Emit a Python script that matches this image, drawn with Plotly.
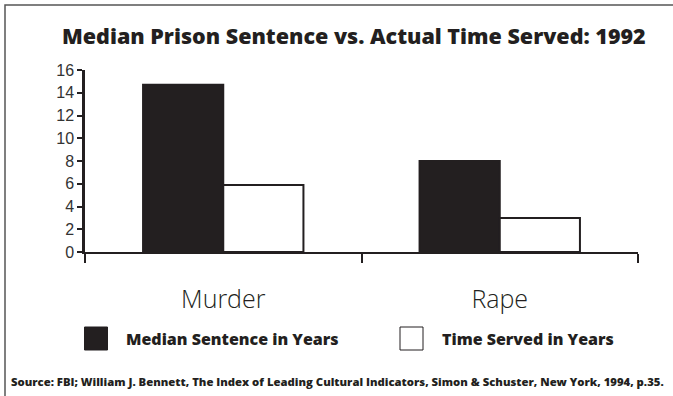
import plotly.graph_objects as go

# Data: median prison sentence vs. actual time served, 1992 (years)
categories = ["Murder", "Rape"]
median_sentence = [14.7, 8.0]
time_served = [5.9, 3.0]
series_names = ["Median Sentence in Years", "Time Served in Years"]
y_ticks = [0, 2, 4, 6, 8, 10, 12, 14, 16]

INK = "#231f20"
W, H = 673, 396
L, R, T, B = 85, 35, 70, 144  # plot-area margins in px

def px_x(px):
    return (px - L) / (W - L - R)

def px_y(py):
    return (H - B - py) / (H - T - B)

fig = go.Figure()
fig.add_trace(go.Bar(
    x=categories, y=median_sentence, name=series_names[0],
    marker=dict(color=INK, line=dict(color=INK, width=2)),
    showlegend=False,
))
fig.add_trace(go.Bar(
    x=categories, y=time_served, name=series_names[1],
    marker=dict(color="white", line=dict(color=INK, width=2)),
    showlegend=False,
))

fig.update_layout(
    width=W, height=H,
    margin=dict(l=L, r=R, t=T, b=B),
    paper_bgcolor="white", plot_bgcolor="white",
    barmode="group", bargap=0.42, bargroupgap=0,
    font=dict(family="Open Sans", color=INK),
)

fig.update_xaxes(
    type="category", range=[-0.5, 1.5],
    showline=True, linecolor=INK, linewidth=2,
    ticks="outside", tickson="boundaries", ticklen=9, tickwidth=2, tickcolor=INK,
    showgrid=False,
    tickfont=dict(family="Open Sans", size=25, weight=300, color=INK),
    ticklabelstandoff=24,
)
fig.update_yaxes(
    range=[0, 16], tickvals=y_ticks,
    showline=True, linecolor=INK, linewidth=2.5,
    ticks="outside", ticklen=5, tickwidth=1.5, tickcolor=INK,
    showgrid=False, zeroline=False,
    tickfont=dict(family="Liberation Sans", size=16, color="#333333"),
)

# Title
fig.add_annotation(
    text="Median Prison Sentence vs. Actual Time Served: 1992",
    xref="paper", yref="paper", x=px_x(354), y=px_y(35),
    xanchor="center", yanchor="middle", showarrow=False,
    font=dict(family="Open Sans", size=21.5, weight=800, color=INK),
)

# Legend (drawn as swatches with labels)
swatch_x = [84.5, 400]
text_x = [124, 440]
fills = [INK, "white"]
for sx, tx, fill, name in zip(swatch_x, text_x, fills, series_names):
    fig.add_shape(
        type="rect", xref="paper", yref="paper",
        x0=px_x(sx), x1=px_x(sx + 23), y0=px_y(350), y1=px_y(327),
        fillcolor=fill, line=dict(color=INK, width=1),
    )
    fig.add_annotation(
        text=name, xref="paper", yref="paper",
        x=px_x(tx), y=px_y(339), xanchor="left", yanchor="middle",
        showarrow=False, font=dict(family="Open Sans", size=16, weight=800, color=INK),
    )

# Source note
fig.add_annotation(
    text="Source: FBI; William J. Bennett, The Index of Leading Cultural Indicators, "
         "Simon &amp; Schuster, New York, 1994, p.35.",
    xref="paper", yref="paper", x=px_x(337), y=px_y(381),
    xanchor="center", yanchor="middle", showarrow=False,
    font=dict(family="Open Sans", size=11.3, weight=800, color=INK),
)

# Frame along the top and left edges
fig.add_shape(
    type="rect", xref="paper", yref="paper",
    x0=px_x(5), x1=px_x(W + 10), y0=px_y(H + 10), y1=px_y(5),
    line=dict(color="#555555", width=1.5), fillcolor="rgba(0,0,0,0)",
    layer="below",
)

fig.write_html("out.html")
